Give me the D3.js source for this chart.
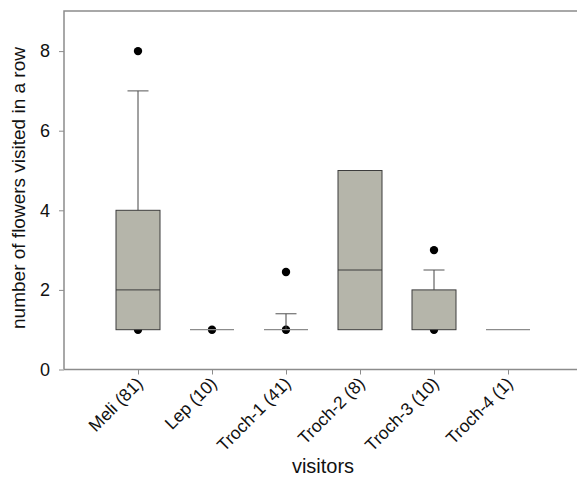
<!DOCTYPE html>
<html>
<head>
<meta charset="utf-8">
<script src="https://cdn.jsdelivr.net/npm/d3@7"></script>
<style>
  body { margin: 0; background: #fff; }
  text { font-family: Arial, "Liberation Sans", sans-serif; fill: #111; }
</style>
</head>
<body>
<div class="chart"></div>
<script>
// data
var categories = ["Meli (81)", "Lep (10)", "Troch-1 (41)", "Troch-2 (8)", "Troch-3 (10)", "Troch-4 (1)"];
var q1 = [1, 1, 1, 1, 1, 1];
var median = [2, 1, 1, 2.5, 1, 1];
var q3 = [4, 1, 1, 5, 2, 1];
var whiskerHigh = [7, null, 1.4, null, 2.5, null];
var outliers = [[8, 1], [1], [2.45, 1], [], [3, 1], []];
var yTicks = [0, 2, 4, 6, 8];

var width = 577;
var height = 480;
var plotLeft = 64, plotTop = 11, plotBottom = 369.5;

var svg = d3.select(".chart").append("svg")
  .attr("width", width)
  .attr("height", height);

// scales
var x = d3.scalePoint().domain(categories).range([plotLeft, plotLeft + 74 * 7]).padding(1);
var y = d3.scaleLinear().domain([0, 9]).range([plotBottom, plotBottom - 9 * 39.8]);

var boxW = 44, capW = 21;
var rows = categories.map(function (c, i) {
  return { cat: c, q1: q1[i], med: median[i], q3: q3[i], hi: whiskerHigh[i], out: outliers[i] };
});

// frame (top and left; right side falls outside the window)
svg.append("path")
  .attr("d", "M" + plotLeft + "," + plotBottom + "V" + plotTop + "H" + (width + 20))
  .attr("fill", "none").attr("stroke", "#8c8c8c").attr("stroke-width", 1.5);

// y axis
var yAxis = svg.append("g")
  .attr("transform", "translate(" + plotLeft + ",0)")
  .call(d3.axisLeft(y).tickValues(yTicks).tickSize(5).tickPadding(9));
yAxis.select(".domain").remove();
yAxis.selectAll("line").attr("stroke", "#8c8c8c");
yAxis.selectAll("text").style("font-size", "18px").style("font-family", "Arial, 'Liberation Sans', sans-serif").attr("fill", "#111");

// x axis
var xAxis = svg.append("g")
  .attr("transform", "translate(0," + plotBottom + ")")
  .call(d3.axisBottom(x).tickSize(5).tickFormat(""));
xAxis.select(".domain").attr("d", "M" + plotLeft + ",0H" + (width + 20)).attr("stroke", "#8c8c8c").attr("stroke-width", 1.5);
xAxis.selectAll("line").attr("stroke", "#8c8c8c");

svg.append("g").selectAll("text")
  .data(categories).enter().append("text")
  .attr("text-anchor", "end")
  .attr("transform", function (d) { return "translate(" + (x(d) + 6) + "," + (plotBottom + 15) + ") rotate(-45)"; })
  .style("font-size", "17.5px")
  .text(function (d) { return d; });

// outlier dots, drawn under the boxes
var g = svg.append("g");
rows.forEach(function (r) {
  g.selectAll(null).data(r.out).enter().append("circle")
    .attr("cx", x(r.cat))
    .attr("cy", function (v) { return y(v); })
    .attr("r", 4.2)
    .attr("fill", "#000");
});

// whiskers
var wh = rows.filter(function (r) { return r.hi != null; });
g.selectAll(".whisker").data(wh).enter().append("line")
  .attr("x1", function (r) { return x(r.cat); })
  .attr("x2", function (r) { return x(r.cat); })
  .attr("y1", function (r) { return y(r.q3); })
  .attr("y2", function (r) { return y(r.hi); })
  .attr("stroke", "#444");
g.selectAll(".cap").data(wh).enter().append("line")
  .attr("x1", function (r) { return x(r.cat) - capW / 2; })
  .attr("x2", function (r) { return x(r.cat) + capW / 2; })
  .attr("y1", function (r) { return y(r.hi); })
  .attr("y2", function (r) { return y(r.hi); })
  .attr("stroke", "#555");

// boxes
g.selectAll(".box").data(rows.filter(function (r) { return r.q3 > r.q1; })).enter().append("rect")
  .attr("x", function (r) { return x(r.cat) - boxW / 2; })
  .attr("width", boxW)
  .attr("y", function (r) { return y(r.q3); })
  .attr("height", function (r) { return y(r.q1) - y(r.q3); })
  .attr("fill", "#b5b5aa")
  .attr("stroke", "#3c3c3c");

// flat boxes: a single line
g.selectAll(".flat").data(rows.filter(function (r) { return r.q3 === r.q1; })).enter().append("line")
  .attr("x1", function (r) { return x(r.cat) - boxW / 2; })
  .attr("x2", function (r) { return x(r.cat) + boxW / 2; })
  .attr("y1", function (r) { return y(r.q1); })
  .attr("y2", function (r) { return y(r.q1); })
  .attr("stroke", "#8c8c8c").attr("stroke-width", 1.2);

// medians
g.selectAll(".med").data(rows.filter(function (r) { return r.med > r.q1 && r.med < r.q3; })).enter().append("line")
  .attr("x1", function (r) { return x(r.cat) - boxW / 2; })
  .attr("x2", function (r) { return x(r.cat) + boxW / 2; })
  .attr("y1", function (r) { return y(r.med); })
  .attr("y2", function (r) { return y(r.med); })
  .attr("stroke", "#3c3c3c");

// axis titles
svg.append("text")
  .attr("text-anchor", "middle")
  .attr("transform", "translate(25,188) rotate(-90)")
  .style("font-size", "19px")
  .text("number of flowers visited in a row");

svg.append("text")
  .attr("text-anchor", "middle")
  .attr("x", 323)
  .attr("y", 473)
  .style("font-size", "20px")
  .text("visitors");
</script>
</body>
</html>
